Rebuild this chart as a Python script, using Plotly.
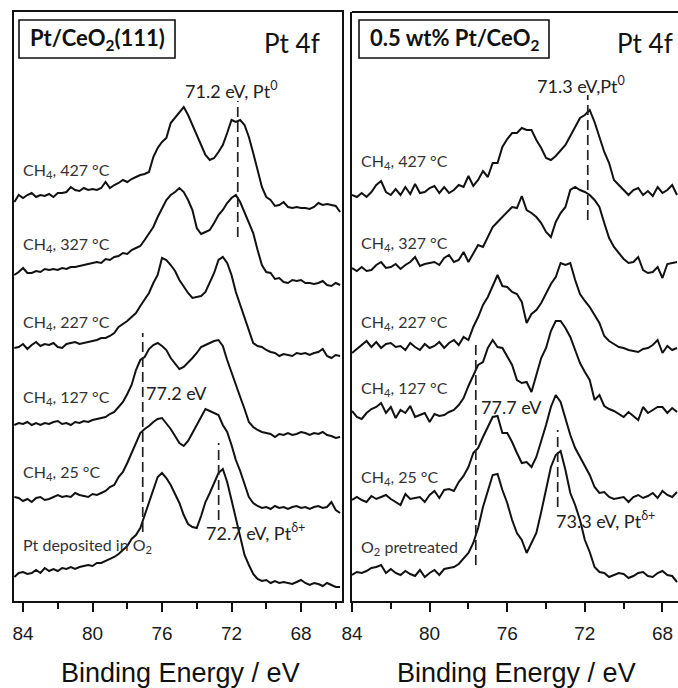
import plotly.graph_objects as go

# ---------------- data (binding energy in eV, intensity in arbitrary units, offsets included) ----
ENERGY_LEFT = [84.5, 84.25, 84.0, 83.75, 83.5, 83.25, 83.0, 82.75, 82.5, 82.25,
               82.0, 81.75, 81.5, 81.25, 81.0, 80.75, 80.5, 80.25, 80.0, 79.75,
               79.5, 79.25, 79.0, 78.75, 78.5, 78.25, 78.0, 77.75, 77.5, 77.25,
               77.0, 76.75, 76.5, 76.25, 76.0, 75.75, 75.5, 75.25, 75.0, 74.75,
               74.5, 74.25, 74.0, 73.75, 73.5, 73.25, 73.0, 72.75, 72.5, 72.25,
               72.0, 71.75, 71.5, 71.25, 71.0, 70.75, 70.5, 70.25, 70.0, 69.75,
               69.5, 69.25, 69.0, 68.75, 68.5, 68.25, 68.0, 67.75, 67.5, 67.25,
               67.0, 66.75, 66.5, 66.25, 66.0, 65.75]

ENERGY_RIGHT = [84.0, 83.75, 83.5, 83.25, 83.0, 82.75, 82.5, 82.25, 82.0, 81.75,
                81.5, 81.25, 81.0, 80.75, 80.5, 80.25, 80.0, 79.75, 79.5, 79.25,
                79.0, 78.75, 78.5, 78.25, 78.0, 77.75, 77.5, 77.25, 77.0, 76.75,
                76.5, 76.25, 76.0, 75.75, 75.5, 75.25, 75.0, 74.75, 74.5, 74.25,
                74.0, 73.75, 73.5, 73.25, 73.0, 72.75, 72.5, 72.25, 72.0, 71.75,
                71.5, 71.25, 71.0, 70.75, 70.5, 70.25, 70.0, 69.75, 69.5, 69.25,
                69.0, 68.75, 68.5, 68.25, 68.0, 67.75, 67.5, 67.25]

# Pt/CeO2(111)
L_427 = [399, 406, 403, 406, 408, 404, 406, 405, 407, 404,
         408, 408, 409, 414, 411, 410, 413, 411, 412, 411,
         413, 419, 413, 416, 418, 421, 419, 422, 424, 426,
         427, 429, 444, 453, 459, 463, 478, 483, 489, 494,
         486, 476, 466, 456, 446, 441, 443, 449, 456, 468,
         481, 479, 481, 476, 464, 448, 431, 414, 404, 401,
         395, 396, 399, 394, 393, 394, 393, 393, 392, 394,
         398, 396, 397, 396, 395, 389]
L_327 = [326, 329, 333, 328, 328, 330, 329, 332, 331, 332,
         331, 333, 332, 334, 334, 335, 336, 337, 338, 339,
         338, 342, 341, 344, 345, 348, 347, 351, 353, 355,
         361, 368, 374, 384, 393, 401, 406, 409, 413, 409,
         401, 391, 373, 367, 369, 371, 378, 386, 391, 398,
         403, 406, 399, 388, 378, 368, 351, 336, 329, 328,
         322, 323, 319, 318, 321, 320, 321, 318, 318, 317,
         318, 320, 316, 315, 318, 316]
L_227 = [253, 254, 257, 252, 256, 259, 255, 257, 256, 258,
         254, 253, 257, 258, 259, 257, 258, 259, 260, 261,
         263, 263, 265, 268, 274, 277, 280, 284, 288, 295,
         302, 308, 318, 326, 343, 341, 336, 330, 321, 314,
         308, 303, 304, 305, 309, 318, 328, 341, 344, 338,
         326, 309, 296, 284, 269, 258, 255, 254, 251, 249,
         248, 245, 247, 246, 245, 248, 247, 248, 246, 248,
         249, 252, 245, 243, 246, 245]
L_127 = [176, 178, 177, 179, 176, 178, 176, 178, 177, 179,
         180, 177, 178, 176, 179, 178, 180, 179, 181, 182,
         183, 184, 187, 189, 194, 199, 207, 216, 231, 241,
         244, 252, 256, 258, 255, 251, 243, 237, 232, 234,
         238, 243, 248, 254, 256, 258, 260, 261, 255, 241,
         228, 216, 204, 192, 179, 174, 171, 169, 168, 167,
         164, 167, 166, 168, 166, 167, 169, 168, 166, 168,
         167, 169, 166, 165, 163, 164]
L_25 = [104, 103, 100, 102, 99, 103, 104, 101, 102, 104,
        106, 104, 105, 104, 108, 106, 105, 104, 107, 106,
        108, 110, 114, 116, 124, 129, 138, 148, 158, 168,
        172, 175, 179, 182, 183, 178, 172, 165, 158, 155,
        160, 168, 176, 185, 192, 190, 188, 186, 176, 169,
        156, 141, 130, 116, 104, 98, 95, 93, 94, 92,
        95, 93, 94, 92, 94, 95, 93, 94, 92, 94,
        95, 93, 94, 99, 91, 88]
L_O2 = [24, 28, 29, 27, 28, 31, 28, 33, 30, 32,
        30, 33, 32, 34, 32, 34, 35, 36, 35, 38,
        38, 40, 42, 44, 47, 51, 55, 62, 66, 73,
        86, 99, 112, 124, 128, 123, 116, 107, 98, 86,
        77, 74, 73, 85, 99, 108, 119, 128, 132, 119,
        101, 83, 62, 46, 36, 27, 22, 20, 21, 18,
        20, 18, 19, 18, 17, 19, 21, 18, 16, 18,
        17, 15, 18, 16, 14, 14]

# 0.5 wt% Pt/CeO2
R_427 = [406, 404, 408, 404, 409, 416, 420, 409, 406, 412,
         406, 414, 407, 417, 408, 409, 413, 415, 408, 414,
         408, 411, 416, 414, 425, 415, 421, 430, 424, 438,
         438, 454, 462, 468, 468, 473, 471, 471, 461, 453,
         443, 441, 445, 450, 456, 465, 474, 483, 486, 491,
         479, 464, 449, 438, 421, 416, 411, 406, 411, 413,
         406, 410, 405, 414, 408, 411, 416, 406]
R_327 = [333, 330, 334, 330, 331, 336, 339, 333, 334, 337,
         332, 336, 339, 344, 335, 337, 338, 339, 336, 343,
         346, 339, 341, 349, 339, 348, 356, 354, 364, 374,
         379, 384, 390, 394, 393, 405, 391, 388, 384, 378,
         369, 364, 379, 388, 394, 411, 414, 411, 409, 406,
         401, 394, 378, 363, 354, 348, 342, 338, 339, 344,
         331, 328, 329, 334, 323, 337, 338, 339]
R_227 = [248, 252, 256, 260, 254, 259, 253, 257, 258, 254,
         255, 251, 258, 254, 251, 257, 253, 255, 259, 253,
         258, 261, 256, 264, 261, 274, 284, 296, 304, 315,
         326, 315, 314, 309, 307, 299, 278, 287, 291, 298,
         308, 317, 324, 338, 336, 338, 321, 307, 300, 294,
         286, 278, 265, 260, 257, 254, 253, 251, 250, 249,
         252, 253, 256, 261, 248, 255, 251, 253]
R_127 = [190, 184, 182, 188, 192, 194, 198, 188, 194, 183,
         191, 188, 195, 184, 186, 188, 179, 187, 185, 186,
         189, 191, 196, 203, 215, 226, 236, 239, 253, 261,
         254, 253, 245, 236, 221, 218, 219, 209, 226, 243,
         253, 270, 280, 280, 273, 264, 251, 238, 229, 221,
         201, 206, 195, 192, 190, 187, 184, 189, 185, 181,
         194, 188, 191, 194, 194, 188, 193, 189]
R_25 = [101, 104, 101, 99, 105, 102, 104, 106, 102, 99,
        96, 107, 102, 103, 104, 99, 106, 110, 103, 111,
        112, 110, 119, 125, 134, 148, 153, 164, 174, 184,
        185, 168, 168, 159, 148, 138, 139, 134, 144, 159,
        176, 194, 206, 199, 183, 166, 153, 144, 136, 126,
        114, 108, 109, 104, 102, 103, 104, 99, 104, 106,
        103, 105, 108, 103, 110, 106, 104, 109]
R_O2 = [26, 29, 28, 30, 33, 34, 36, 28, 32, 28,
        26, 30, 27, 25, 31, 24, 28, 31, 26, 32,
        33, 34, 37, 42, 48, 58, 73, 94, 110, 126,
        127, 111, 98, 81, 68, 61, 48, 58, 68, 89,
        113, 134, 146, 150, 131, 108, 96, 81, 61, 49,
        34, 29, 28, 24, 26, 28, 27, 23, 25, 28,
        29, 25, 24, 28, 30, 26, 25, 19]

LEFT_LABELS = ["CH<sub>4</sub>, 427 °C", "CH<sub>4</sub>, 327 °C", "CH<sub>4</sub>, 227 °C",
               "CH<sub>4</sub>, 127 °C", "CH<sub>4</sub>, 25 °C", "Pt deposited in O<sub>2</sub>"]
RIGHT_LABELS = ["CH<sub>4</sub>, 427 °C", "CH<sub>4</sub>, 327 °C", "CH<sub>4</sub>, 227 °C",
                "CH<sub>4</sub>, 127 °C", "CH<sub>4</sub>, 25 °C", "O<sub>2</sub> pretreated"]

# reference (dashed) lines: energy, top intensity, bottom intensity
LEFT_REF_E = [71.64, 77.11, 72.74]
LEFT_REF_TOP = [500, 268, 158]
LEFT_REF_BOT = [364, 69, 81]
RIGHT_REF_E = [71.85, 77.62, 73.4]
RIGHT_REF_TOP = [506, 258, 171]
RIGHT_REF_BOT = [381, 36, 94]

TICKS = [84, 80, 76, 72, 68]

# ---------------- layout helpers ----------------
W, H = 678, 688
ML, MR, MT, MB = 14, 0, 12, 87
PW, PH = W - ML - MR, H - MT - MB


def px(x):
    return (x - ML) / PW


def py(y):
    return (H - MB - y) / PH


LEFT_SERIES = [L_427, L_327, L_227, L_127, L_25, L_O2]
RIGHT_SERIES = [R_427, R_327, R_227, R_127, R_25, R_O2]

fig = go.Figure()
for s in LEFT_SERIES:
    assert len(s) == len(ENERGY_LEFT), len(s)
    fig.add_trace(go.Scatter(x=ENERGY_LEFT, y=s, mode="lines", xaxis="x", yaxis="y",
                             line=dict(color="#111", width=2), showlegend=False,
                             hoverinfo="skip"))
for s in RIGHT_SERIES:
    assert len(s) == len(ENERGY_RIGHT), len(s)
    fig.add_trace(go.Scatter(x=ENERGY_RIGHT, y=s, mode="lines", xaxis="x2", yaxis="y2",
                             line=dict(color="#111", width=2), showlegend=False,
                             hoverinfo="skip"))

shapes = []
for e, t, b in zip(LEFT_REF_E, LEFT_REF_TOP, LEFT_REF_BOT):
    shapes.append(dict(type="line", xref="x", yref="y", x0=e, x1=e, y0=b, y1=t,
                       line=dict(color="#222", width=1.7, dash="10px,5px")))
for e, t, b in zip(RIGHT_REF_E, RIGHT_REF_TOP, RIGHT_REF_BOT):
    shapes.append(dict(type="line", xref="x2", yref="y2", x0=e, x1=e, y0=b, y1=t,
                       line=dict(color="#222", width=1.7, dash="10px,5px")))
# top border of the right panel (its right edge is cut off)
shapes.append(dict(type="line", xref="paper", yref="paper", x0=px(352), x1=1.02, y0=1, y1=1,
                   line=dict(color="#111", width=2)))
# header boxes
shapes.append(dict(type="rect", xref="paper", yref="paper", x0=px(19), x1=px(175),
                   y0=py(58), y1=py(20), line=dict(color="#111", width=1.6)))
shapes.append(dict(type="rect", xref="paper", yref="paper", x0=px(359), x1=px(549),
                   y0=py(58), y1=py(20), line=dict(color="#111", width=1.6)))

LBL_FONT = dict(family="Lato, Noto Sans, sans-serif", size=16, color="#333")
ANN_FONT = dict(family="Lato, Noto Sans, sans-serif", size=18, color="#222")

annotations = []
LEFT_LABEL_Y = [170, 245, 322, 397, 473, 545]
RIGHT_LABEL_Y = [162, 243, 322, 389, 477, 547]
for t, y in zip(LEFT_LABELS, LEFT_LABEL_Y):
    annotations.append(dict(text=t, x=px(21), y=py(y), xref="paper", yref="paper",
                            xanchor="left", yanchor="middle", showarrow=False, font=LBL_FONT))
for t, y in zip(RIGHT_LABELS, RIGHT_LABEL_Y):
    annotations.append(dict(text=t, x=px(359), y=py(y), xref="paper", yref="paper",
                            xanchor="left", yanchor="middle", showarrow=False, font=LBL_FONT))

annotations += [
    dict(text="71.2 eV, Pt<sup>0</sup>", x=px(231), y=py(90), xanchor="center"),
    dict(text="71.3 eV,Pt<sup>0</sup>", x=px(581), y=py(85), xanchor="center"),
    dict(text="77.2 eV", x=px(144), y=py(393), xanchor="left"),
    dict(text="72.7 eV, Pt<sup>δ+</sup>", x=px(204), y=py(532), xanchor="left"),
    dict(text="77.7 eV", x=px(479), y=py(407), xanchor="left"),
    dict(text="73.3 eV, Pt<sup>δ+</sup>", x=px(554), y=py(520), xanchor="left"),
]
for a in annotations[-6:]:
    a.update(xref="paper", yref="paper", yanchor="middle", showarrow=False, font=ANN_FONT)

HDR_FONT = dict(family="Lato, Noto Sans, sans-serif", size=22, color="#111")
annotations += [
    dict(text="<b>Pt/CeO<sub>2</sub>(111)</b>", x=px(97), y=py(39)),
    dict(text="<b>0.5 wt% Pt/CeO<sub>2</sub></b>", x=px(454), y=py(39)),
]
for a in annotations[-2:]:
    a.update(xref="paper", yref="paper", xanchor="center", yanchor="middle",
             showarrow=False, font=HDR_FONT)

PT_FONT = dict(family="Lato, Noto Sans, sans-serif", size=26, color="#111")
annotations += [
    dict(text="Pt 4f", x=px(292), y=py(43)),
    dict(text="Pt 4f", x=px(645), y=py(43)),
]
for a in annotations[-2:]:
    a.update(xref="paper", yref="paper", xanchor="center", yanchor="middle",
             showarrow=False, font=PT_FONT)

TITLE_FONT = dict(family="Liberation Sans, Arial, sans-serif", size=27, color="#111")
annotations += [
    dict(text="Binding Energy / eV", x=px(180), y=py(673)),
    dict(text="Binding Energy / eV", x=px(516), y=py(673)),
]
for a in annotations[-2:]:
    a.update(xref="paper", yref="paper", xanchor="center", yanchor="middle",
             showarrow=False, font=TITLE_FONT)

xcommon = dict(tickmode="array", tickvals=TICKS, ticktext=[str(t) for t in TICKS],
               ticks="outside", ticklen=9, tickwidth=2, tickcolor="#111",
               showline=True, linecolor="#111", linewidth=2, showgrid=False, zeroline=False,
               tickfont=dict(family="Liberation Sans, Arial, sans-serif", size=19, color="#1a1a1a"),
               ticklabelstandoff=5,
               minor=dict(tickmode="array", tickvals=[82, 78, 74, 70, 66], ticks="outside",
                          ticklen=6, tickwidth=1.6, tickcolor="#111"))
ycommon = dict(range=[0, PH], showticklabels=False, ticks="", showgrid=False, zeroline=False,
               showline=True, linecolor="#111", linewidth=2, fixedrange=True)

fig.update_layout(
    width=W, height=H,
    margin=dict(l=ML, r=MR, t=MT, b=MB),
    paper_bgcolor="white", plot_bgcolor="white",
    xaxis=dict(domain=[0, px(342)], range=[84.52, 65.64], mirror=True, anchor="y", **xcommon),
    yaxis=dict(domain=[0, 1], anchor="x", mirror=True, **ycommon),
    xaxis2=dict(domain=[px(352), 1], range=[84.0, 67.2], anchor="y2", **xcommon),
    yaxis2=dict(domain=[0, 1], anchor="x2", **ycommon),
    shapes=shapes,
    annotations=annotations,
)

fig.write_html("out.html")
